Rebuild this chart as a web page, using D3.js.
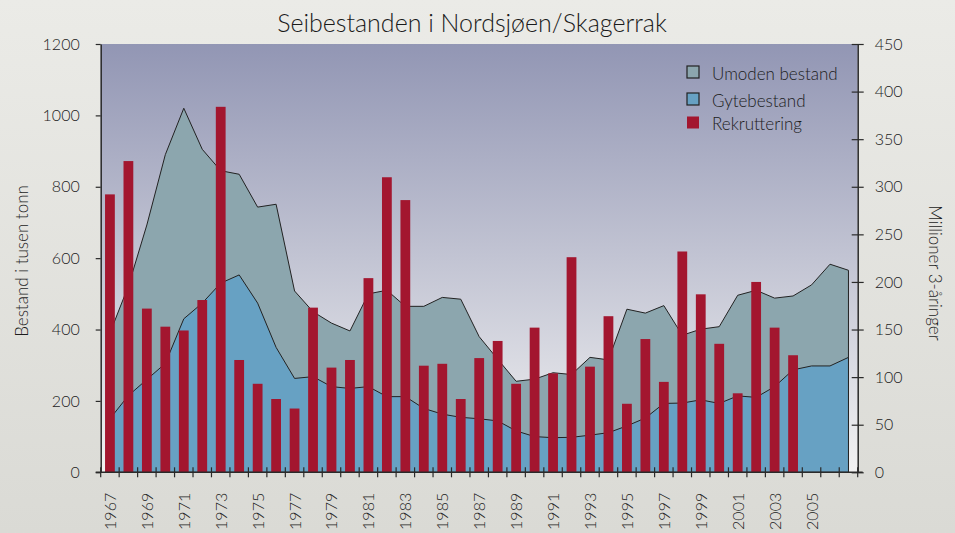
<!DOCTYPE html>
<html>
<head>
<meta charset="utf-8">
<script src="https://cdn.jsdelivr.net/npm/d3@7"></script>
<style>
  body { margin: 0; }
  svg { display: block; font-family: Lato, "Open Sans", sans-serif; font-weight: 300; }
</style>
</head>
<body>
<div id="chart"></div>
<script>
const years = [1967, 1968, 1969, 1970, 1971, 1972, 1973, 1974, 1975, 1976,
  1977, 1978, 1979, 1980, 1981, 1982, 1983, 1984, 1985, 1986,
  1987, 1988, 1989, 1990, 1991, 1992, 1993, 1994, 1995, 1996,
  1997, 1998, 1999, 2000, 2001, 2002, 2003, 2004, 2005, 2006, 2007];

// total stock (upper area), thousand tonnes
const umoden = [390, 522, 693, 890, 1020, 905, 845, 835, 743, 751,
  508, 450, 418, 396, 500, 510, 465, 465, 490, 485,
  380, 317, 255, 261, 279, 274, 322, 315, 457, 446,
  467, 384, 401, 408, 496, 510, 488, 494, 525, 583, 566];

// spawning stock, thousand tonnes
const gyte = [150, 215, 260, 305, 430, 474, 530, 553, 474, 350,
  263, 268, 240, 235, 240, 212, 212, 179, 163, 154,
  150, 144, 116, 100, 97, 98, 104, 111, 130, 152,
  193, 194, 203, 193, 214, 210, 240, 287, 298, 298, 322];

// recruitment, million 3-year-olds (1967-2004)
const rekruttering = [292, 327, 172, 153, 149, 181, 384, 118, 93, 77,
  67, 173, 110, 118, 204, 310, 286, 112, 114, 77,
  120, 138, 93, 152, 104, 226, 111, 164, 72, 140,
  95, 232, 187, 135, 83, 200, 152, 123];

const leftTicks = [0, 200, 400, 600, 800, 1000, 1200];
const rightTicks = [0, 50, 100, 150, 200, 250, 300, 350, 400, 450];
const yearLabels = [1967, 1969, 1971, 1973, 1975, 1977, 1979, 1981, 1983, 1985,
  1987, 1989, 1991, 1993, 1995, 1997, 1999, 2001, 2003, 2005];

const legendItems = [
  { name: "Umoden bestand", color: "#8ca6ae", stroke: "#222" },
  { name: "Gytebestand", color: "#67a1c3", stroke: "#222" },
  { name: "Rekruttering", color: "#a3162f", stroke: "none" }
];

const W = 955, H = 533;
const margin = { top: 44, right: 97.3, bottom: 60.7, left: 100.7 };
const width = W - margin.left - margin.right;
const height = H - margin.top - margin.bottom;

const root = d3.select("#chart")
  .append("svg")
  .attr("width", W)
  .attr("height", H);

const defs = root.append("defs");
const pageGrad = defs.append("linearGradient")
  .attr("id", "pageGrad").attr("x1", 0).attr("y1", 0).attr("x2", 0).attr("y2", 1);
pageGrad.append("stop").attr("offset", "0%").attr("stop-color", "#ebebe7");
pageGrad.append("stop").attr("offset", "100%").attr("stop-color", "#dadad5");

const plotGrad = defs.append("linearGradient")
  .attr("id", "plotGrad").attr("x1", 0).attr("y1", 0).attr("x2", 0).attr("y2", 1);
plotGrad.append("stop").attr("offset", "0%").attr("stop-color", "#9296b4");
plotGrad.append("stop").attr("offset", "100%").attr("stop-color", "#f2f2f2");

root.append("rect").attr("width", W).attr("height", H).attr("fill", "url(#pageGrad)");

const svg = root.append("g")
  .attr("transform", `translate(${margin.left},${margin.top})`);

svg.append("rect")
  .attr("width", width)
  .attr("height", height)
  .attr("fill", "url(#plotGrad)");

const x = d3.scaleBand().domain(years).range([0, width]).padding(0);
const cx = d => x(d) + x.bandwidth() / 2;
const yLeft = d3.scaleLinear().domain([0, 1200]).range([height, 0]);
const yRight = d3.scaleLinear().domain([0, 450]).range([height, 0]);

const area = d3.area()
  .x((d, i) => cx(years[i]))
  .y0(height)
  .y1(d => yLeft(d));

svg.append("path")
  .datum(umoden)
  .attr("d", area)
  .attr("fill", legendItems[0].color)
  .attr("stroke", "#222")
  .attr("stroke-width", 1);

svg.append("path")
  .datum(gyte)
  .attr("d", area)
  .attr("fill", legendItems[1].color)
  .attr("stroke", "#222")
  .attr("stroke-width", 1);

const barW = x.bandwidth() * 0.53;
svg.selectAll(".bar")
  .data(rekruttering)
  .enter()
  .append("rect")
  .attr("class", "bar")
  .attr("x", (d, i) => cx(years[i]) - barW / 2)
  .attr("width", barW)
  .attr("y", d => yRight(d))
  .attr("height", d => height - yRight(d))
  .attr("fill", legendItems[2].color);

// axes
const axisColor = "#2a2a2a";
const textColor = "#1c1c1c";

const leftAxis = svg.append("g")
  .call(d3.axisLeft(yLeft).tickValues(leftTicks).tickFormat(d3.format("d"))
    .tickSize(5).tickPadding(16).tickSizeOuter(0));
const rightAxis = svg.append("g")
  .attr("transform", `translate(${width},0)`)
  .call(d3.axisRight(yRight).tickValues(rightTicks).tickFormat(d3.format("d"))
    .tickSize(6).tickPadding(11).tickSizeOuter(0));
rightAxis.selectAll(".tick line").attr("x1", -6);

[leftAxis, rightAxis].forEach(a => {
  a.select(".domain").attr("stroke", axisColor).attr("stroke-width", 1.5);
  a.selectAll(".tick line").attr("stroke", axisColor).attr("stroke-width", 1.2);
  a.selectAll("text").attr("font-size", 16).attr("fill", textColor)
    .attr("font-family", "Lato, 'Open Sans', sans-serif");
});

const bottom = svg.append("g").attr("transform", `translate(0,${height})`);
bottom.append("line")
  .attr("x1", -5).attr("x2", width + 5)
  .attr("stroke", axisColor).attr("stroke-width", 1.5);
bottom.selectAll(".xtick")
  .data(years.map(d => x(d)).concat([width]))
  .enter()
  .append("line")
  .attr("class", "xtick")
  .attr("x1", d => d).attr("x2", d => d)
  .attr("y1", -5).attr("y2", 5)
  .attr("stroke", axisColor).attr("stroke-width", 1.2);
bottom.selectAll(".xlabel")
  .data(yearLabels)
  .enter()
  .append("text")
  .attr("class", "xlabel")
  .attr("transform", d => `translate(${cx(d) + 6},20.5) rotate(-90)`)
  .attr("text-anchor", "end")
  .attr("font-size", 16)
  .attr("fill", textColor)
  .text(d => d);

// axis titles
root.append("text")
  .attr("transform", "translate(28,261) rotate(-90)")
  .attr("text-anchor", "middle")
  .attr("font-size", 17)
  .attr("fill", textColor)
  .text("Bestand i tusen tonn");

root.append("text")
  .attr("transform", "translate(929,273) rotate(90)")
  .attr("text-anchor", "middle")
  .attr("font-size", 17)
  .attr("fill", textColor)
  .text("Millioner 3-åringer");

root.append("text")
  .attr("x", 472)
  .attr("y", 31.5)
  .attr("text-anchor", "middle")
  .attr("font-size", 25)
  .attr("fill", "#1a1a1a")
  .text("Seibestanden i Nordsjøen/Skagerrak");

// legend
const legend = root.append("g").attr("transform", "translate(687,66)");
const rows = legend.selectAll(".row")
  .data(legendItems)
  .enter()
  .append("g")
  .attr("transform", (d, i) => `translate(0,${[0, 27, 50.5][i]})`);
rows.append("rect")
  .attr("width", 12).attr("height", 12)
  .attr("fill", d => d.color)
  .attr("stroke", d => d.stroke)
  .attr("stroke-width", 1.2);
rows.append("text")
  .attr("x", 25).attr("y", 13.5)
  .attr("font-size", 17)
  .attr("fill", textColor)
  .text(d => d.name);
</script>
</body>
</html>
